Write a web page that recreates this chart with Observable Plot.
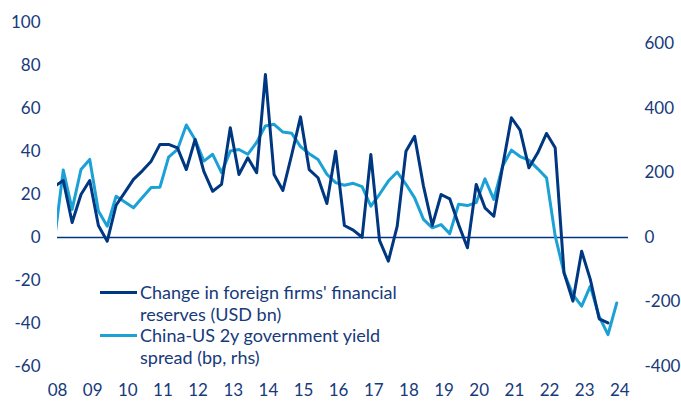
<!DOCTYPE html>
<html><head><meta charset="utf-8">
<script src="https://cdn.jsdelivr.net/npm/d3@7"></script>
<script src="https://cdn.jsdelivr.net/npm/@observablehq/plot@0.6"></script>
<style>
body{margin:0;background:#fff;}
#wrap{position:relative;width:681px;height:401px;font-family:Lato,sans-serif;}
.leg{position:absolute;left:140px;font-size:18px;line-height:22px;color:#163a7a;white-space:nowrap;}
.sw{position:absolute;left:100px;width:37px;height:3px;}
</style></head><body><div id="wrap"></div>
<script>
// quarterly observations (first one lies just before the axis start and is clipped)
const dates = [
  "2007-12",
  "2008-03","2008-06","2008-09","2008-12",
  "2009-03","2009-06","2009-09","2009-12",
  "2010-03","2010-06","2010-09","2010-12",
  "2011-03","2011-06","2011-09","2011-12",
  "2012-03","2012-06","2012-09","2012-12",
  "2013-03","2013-06","2013-09","2013-12",
  "2014-03","2014-06","2014-09","2014-12",
  "2015-03","2015-06","2015-09","2015-12",
  "2016-03","2016-06","2016-09","2016-12",
  "2017-03","2017-06","2017-09","2017-12",
  "2018-03","2018-06","2018-09","2018-12",
  "2019-03","2019-06","2019-09","2019-12",
  "2020-03","2020-06","2020-09","2020-12",
  "2021-03","2021-06","2021-09","2021-12",
  "2022-03","2022-06","2022-09","2022-12",
  "2023-03","2023-06","2023-09","2023-12"
];
// Change in foreign firms' financial reserves (USD bn, lhs)
const reserves = [
  23.8,
  26.5, 7, 20, 26.5,
  5.6, -1.7, 15, 21,
  27, 31, 35.5, 43.3,
  43.3, 41.7, 31.6, 45.6,
  30.8, 21.5, 24.7, 51,
  29.3, 37.1, 30.1, 75.8,
  29.3, 21.9, 38.6, 56.1,
  31.6, 27.8, 15.8, 40.1,
  5.6, 3.4, 0.1, 38.6,
  -1.3, -11, 5.3, 40.1,
  47.1, 23.9, 5.6, 20,
  18, 6, -4.8, 24.7,
  13.8, 9.9, 33.2, 55.7,
  49.9, 32.4, 39.4, 48.4,
  41.7, -16.4, -29.6, -6.4,
  -19.5, -37.8, -39.7, null
];
// China-US 2y government yield spread (bp, rhs)
const spread = [
  -7,
  209, 87, 211, 242,
  82, 35, 128, 110,
  92, 124, 155, 156,
  249, 273, 349, 304,
  237, 258, 201, 268,
  273, 258, 295, 346,
  351, 327, 323, 282,
  260, 242, 196, 170,
  162, 168, 158, 97,
  134, 175, 203, 165,
  123, 56, 30, 40,
  12, 103, 99, 108,
  182, 118, 222, 271,
  251, 240, 213, 185,
  5, -110, -177, -213,
  -151, -245, -301, -203
];
const leftTicks = [-60, -40, -20, 0, 20, 40, 60, 80, 100];
const rightTicks = [-400, -200, 0, 200, 400, 600];
const yearTicks = ["2008","2009","2010","2011","2012","2013","2014","2015","2016","2017","2018","2019","2020","2021","2022","2023","2024"];
const legendLabels = ["Change in foreign firms' financial<br>reserves (USD bn)", "China-US 2y government yield<br>spread (bp, rhs)"];

const parseM = d3.utcParse("%Y-%m");
const toLeft = d3.scaleLinear([-400, 600], [-60, 90]);
const table = dates.map((d, i) => ({date: parseM(d), reserves: reserves[i], spread: spread[i]}));
const darkC = "#003781", lightC = "#1ba1d6", textC = "#163a7a";

const chart = Plot.plot({
  width: 681, height: 401,
  marginLeft: 57, marginRight: 53, marginTop: 22, marginBottom: 35,
  x: {type: "utc", domain: [new Date(Date.UTC(2008,0,1)), new Date(Date.UTC(2024,3,1))]},
  y: {domain: [-60, 100]},
  style: {fontFamily: "Lato, sans-serif", fontSize: "17px", color: textC, background: "#fff"},
  marks: [
    Plot.ruleY([0], {stroke: darkC, strokeWidth: 1.5}),
    Plot.axisY(leftTicks, {tickSize: 0, tickPadding: 17, label: null, tickFormat: d => String(d)}),
    Plot.axisY(rightTicks.map(toLeft), {anchor: "right", tickSize: 0, tickPadding: 16, label: null,
      tickFormat: d => String(Math.round(toLeft.invert(d)))}),
    Plot.axisX(yearTicks.map(y => d3.utcParse("%Y")(y)), {tickSize: 0, tickPadding: 17, label: null, tickFormat: d3.utcFormat("%y")}),
    Plot.lineY(table.filter(d => d.spread != null), {x: "date", y: d => toLeft(d.spread), stroke: lightC, strokeWidth: 3, clip: true}),
    Plot.lineY(table.filter(d => d.reserves != null), {x: "date", y: "reserves", stroke: darkC, strokeWidth: 3, clip: true})
  ]
});
const wrap = document.getElementById("wrap");
wrap.appendChild(chart);
const colors = [darkC, lightC];
const tops = [281, 324];
legendLabels.forEach((t, i) => {
  const sw = document.createElement("div");
  sw.className = "sw"; sw.style.background = colors[i]; sw.style.top = (tops[i] + 10) + "px";
  wrap.appendChild(sw);
  const lb = document.createElement("div");
  lb.className = "leg"; lb.style.top = tops[i] + "px"; lb.innerHTML = t;
  wrap.appendChild(lb);
});
</script></body></html>
